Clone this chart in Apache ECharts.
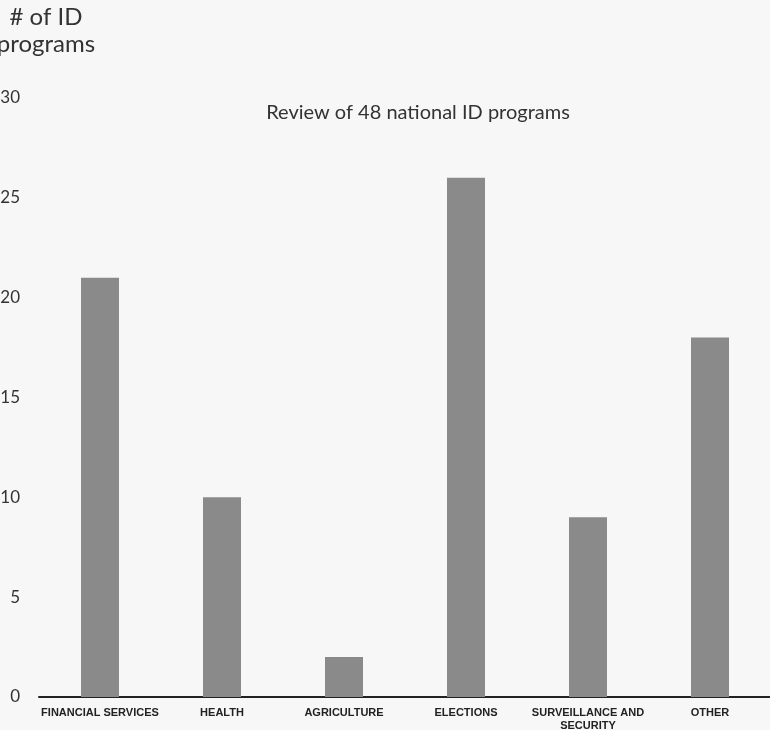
<!DOCTYPE html>
<html>
<head>
<meta charset="utf-8">
<script src="https://cdn.jsdelivr.net/npm/echarts@6/dist/echarts.min.js"></script>
<style>
  html, body { margin: 0; padding: 0; background: #f7f7f7; }
  #main { width: 770px; height: 730px; }
</style>
</head>
<body>
<div id="main"></div>
<script>
// categories and counts
const categories = ['FINANCIAL SERVICES', 'HEALTH', 'AGRICULTURE', 'ELECTIONS', 'SURVEILLANCE AND\nSECURITY', 'OTHER']
const programCounts = [21, 10, 2, 26, 9, 18]
const yTicks = [0, 5, 10, 15, 20, 25, 30]

const yAxisName = '# of ID\nprograms'
const subtitle = 'Review of 48 national ID programs'

const myChart = echarts.init(document.getElementById('main'))

let option = {
  backgroundColor: '#f7f7f7',
  animation: false,
  textStyle: { fontFamily: 'Lato' },
  grid: {
    left: 39,
    width: 732,
    top: 98,
    bottom: 33,
    containLabel: false,
    outerBoundsMode: 'none'
  },
  graphic: [
    {
      type: 'text',
      x: 46,
      y: 31,
      style: {
        text: yAxisName,
        fill: '#333',
        font: '24px Lato',
        align: 'center',
        verticalAlign: 'middle',
        lineHeight: 27
      }
    },
    {
      type: 'text',
      x: 418,
      y: 113,
      style: {
        text: subtitle,
        fill: '#333',
        font: '20px Lato',
        align: 'center',
        verticalAlign: 'middle'
      }
    }
  ],
  xAxis: {
    type: 'category',
    data: categories,
    axisLine: { show: true, lineStyle: { color: '#222', width: 2 } },
    axisTick: { show: false },
    axisLabel: {
      interval: 0,
      margin: 9,
      color: '#222',
      fontFamily: 'Liberation Sans',
      fontWeight: 'bold',
      fontSize: 11,
      lineHeight: 13
    }
  },
  yAxis: {
    type: 'value',
    min: yTicks[0],
    max: yTicks[yTicks.length - 1],
    interval: 5,
    axisLine: { show: false },
    axisTick: { show: false },
    splitLine: { show: false },
    axisLabel: {
      margin: 19,
      color: '#333',
      fontSize: 17,
      fontFamily: 'Lato'
    }
  },
  series: [
    {
      type: 'bar',
      data: programCounts,
      barWidth: 38,
      itemStyle: { color: '#8a8a8a' }
    }
  ]
}

option && myChart.setOption(option)
</script>
</body>
</html>
